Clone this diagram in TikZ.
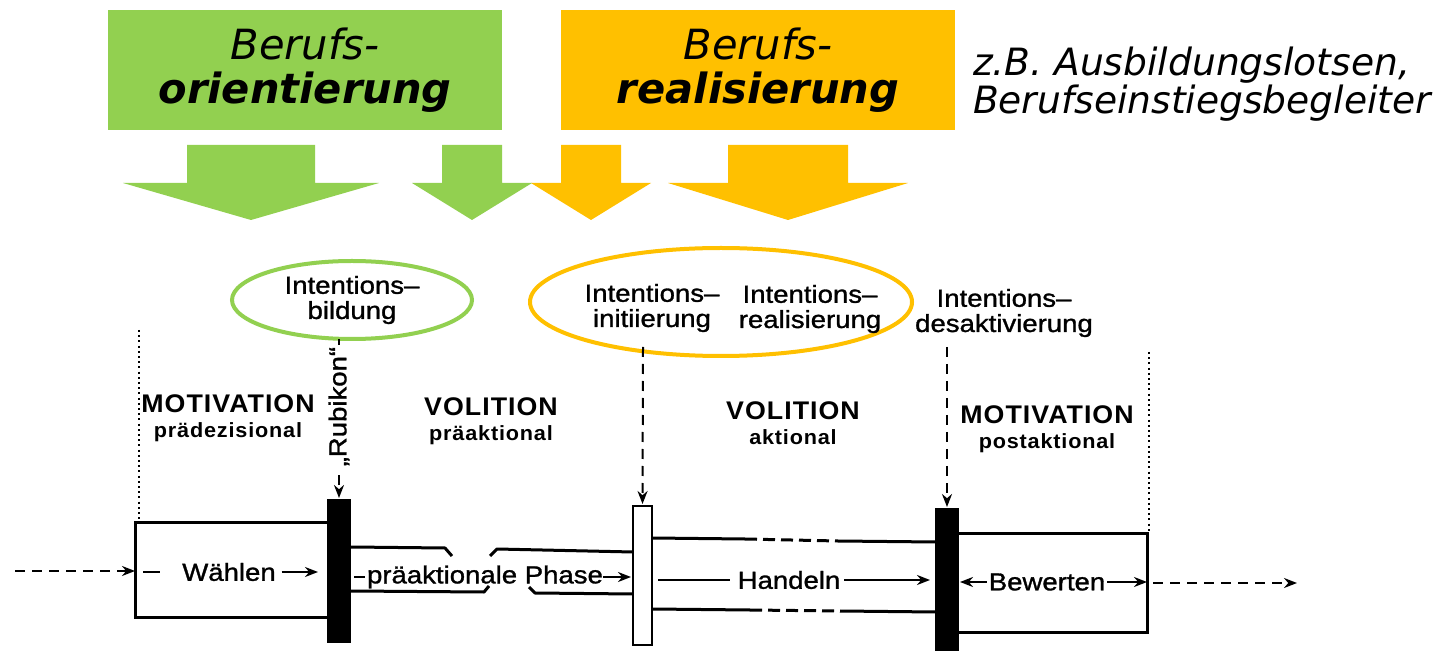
\documentclass[tikz,border=0pt]{standalone}
\usepackage{fontspec}
\setmainfont{DejaVu Sans}
\newfontfamily\scanfont[FakeStretch=1.12, FakeBold=1.2]{Liberation Sans}
\newfontfamily\headfont[FakeStretch=1.05, LetterSpace=4.0]{Liberation Sans}
\usetikzlibrary{positioning,shapes.geometric,arrows.meta}
\definecolor{grn}{HTML}{92D050}
\definecolor{orng}{HTML}{FFC000}
\tikzset{
  topbox/.style={minimum width=197pt, minimum height=60pt, align=center,
    font=\fontsize{20.8pt}{22pt}\selectfont},
  lab/.style={font=\scanfont\fontsize{12.3pt}{12.6pt}\selectfont, align=center},
  head/.style={font=\headfont\bfseries\fontsize{12.75pt}{13pt}\selectfont},
  sub/.style={font=\headfont\bfseries\fontsize{10.3pt}{11pt}\selectfont},
  ell/.style={ellipse, line width=2pt},
  bar/.style={draw, line width=1.2pt, minimum width=11pt},
  box/.style={draw, line width=1.5pt},
  chan/.style={line width=1.5pt, line join=round},
  dline/.style={line width=1pt, dash pattern=on 5pt off 3.5pt},
  dots/.style={line width=1pt, dash pattern=on 1pt off 1.6pt}
}

\begin{document}
\begin{tikzpicture}[x=0.5pt, y=-0.5pt,
    nodes={inner sep=0pt, outer sep=0pt},
    line width=1.1pt, >={Stealth[length=6.5pt,width=5pt]}
  ]

  \fill[white] (0,0) rectangle (1433,651);
  \useasboundingbox (0,0) rectangle (1433,651);

  % top: the two fields
  \node[topbox, fill=grn] (bo) at (305,70)
    {\textit{Berufs-}\\\textbf{\textit{orientierung}}};
  \node[topbox, fill=orng, right = 29.5pt of bo] (br)
    {\textit{Berufs-}\\\textbf{\textit{realisierung}}};
  \node[right = 9pt of br, yshift=-7pt, align=left,
    font=\fontsize{18.8pt}{19pt}\selectfont\itshape] (zb)
    {z.B. Ausbildungslotsen,\\Berufseinstiegsbegleiter};

  \foreach \cx/\sw/\hw/\col in {251/64/128/grn, 472/30/60/grn,
                                591/30/60/orng, 788/60/120/orng}
    \fill[\col] ({\cx-\sw},145) -- ({\cx+\sw},145) -- ({\cx+\sw},183)
      -- ({\cx+\hw},183) -- (\cx,220) -- ({\cx-\hw},183)
      -- ({\cx-\sw},183) -- cycle;

  % intentions
  \node[ell, draw=grn, lab, minimum width=120pt, minimum height=39pt]
    (ib) at (352,300) {Intentions–\\bildung};
  \node[ell, draw=orng, minimum width=191pt, minimum height=54pt]
    (io) at (721,302) {};
  \node[lab] (ii) at (652,308) {Intentions–\\initiierung};
  \node[lab] (ir) at (810,309) {Intentions–\\realisierung};
  \node[lab] (id) at (1004,313) {Intentions–\\desaktivierung};

  % phases
  \node[head] (h1) at (228,404) {MOTIVATION};
  \node[sub, below = 5pt of h1] (s1) {prädezisional};
  \node[head] (h2) at (491,407) {VOLITION};
  \node[sub, below = 5pt of h2] (s2) {präaktional};
  \node[head] (h3) at (793,411) {VOLITION};
  \node[sub, below = 5pt of h3] (s3) {aktional};
  \node[head] (h4) at (1047,415) {MOTIVATION};
  \node[sub, below = 5pt of h4] (s4) {postaktional};

  \draw[dots] (139,330) -- (139,522);
  \draw[dots] (1149,352) -- (1149,533);

  % boxes and channels
  \node[box, minimum width=102pt, minimum height=47.5pt] (wbox) at (237,569.5) {};
  \node[box, minimum width=100pt, minimum height=49.5pt] (bbox) at (1047,582.5) {};

  \draw[chan] (351,547) -- (445,548) -- (452,556);
  \draw[chan] (351,591) -- (484,592) -- (489,586);
  \draw[chan] (633,552) -- (497,549) -- (490,556);
  \draw[chan] (633,594) -- (535,593) -- (529,587);

  \draw[chan] (652,538) -- (745,539);
  \draw[chan, dash pattern=on 6pt off 3pt] (745,539) -- (838,541);
  \draw[chan] (838,541) -- (936,542);
  \draw[chan] (652,609) -- (750,610);
  \draw[chan, dash pattern=on 6pt off 3pt] (750,610) -- (840,611);
  \draw[chan] (840,611) -- (936,612);

  \node[bar, fill=black, minimum height=71pt] (b1) at (339,571) {};
  \node[bar, fill=white, minimum width=9.5pt, minimum height=69.5pt] (wb) at (642.5,575.5) {};
  \node[bar, fill=black, minimum height=72pt] (b2) at (947,581) {};

  % connectors
  \draw[dline, ->, shorten >=1pt] (b1.north |- ib.south) --
    node[lab, rotate=90, fill=white, pos=0.42, inner sep=1pt] {„Rubikon“} (b1.north);
  \coordinate (s2) at (643,347);
  \draw[dline, ->, shorten >=1pt] (s2) -- (wb.north);
  \coordinate (s3) at (947,347);
  \draw[dline, ->, shorten >=1pt] (s3) -- (b2.north);

  \coordinate (ein) at (15,571);
  \draw[dline, ->] (ein) -- (wbox.west |- ein);
  \coordinate (aus) at (1297,583);
  \draw[dline, ->, shorten <=3pt] (bbox.east |- aus) -- (aus);

  % labels in the channels
  \node[lab] (wa) at (229,572) {Wählen};
  \draw[shorten <=4pt, shorten >=11pt] (wbox.west |- wa) -- (wa.west);
  \draw[->, shorten <=3pt, shorten >=5pt] (wa.east) -- (b1.west |- wa);

  \node[lab] (pp) at (485,577) {präaktionale Phase};
  \draw[shorten <=2pt, shorten >=1pt] (b1.east |- pp) -- (pp.west);
  \draw[->, shorten >=1pt] (pp.east) -- (wb.west |- pp);

  \node[lab] (ha) at (789,580) {Handeln};
  \draw[shorten <=3pt, shorten >=4pt] (wb.east |- ha) -- (ha.west);
  \draw[->, shorten <=2pt, shorten >=3pt] (ha.east) -- (b2.west |- ha);

  \node[lab] (be) at (1047,582) {Bewerten};
  \draw[<-, shorten <=1pt, shorten >=1pt] (b2.east |- be) -- (be.west);
  \draw[->, shorten <=1pt] (be.east) -- (bbox.east |- be);

\end{tikzpicture}
\end{document}
